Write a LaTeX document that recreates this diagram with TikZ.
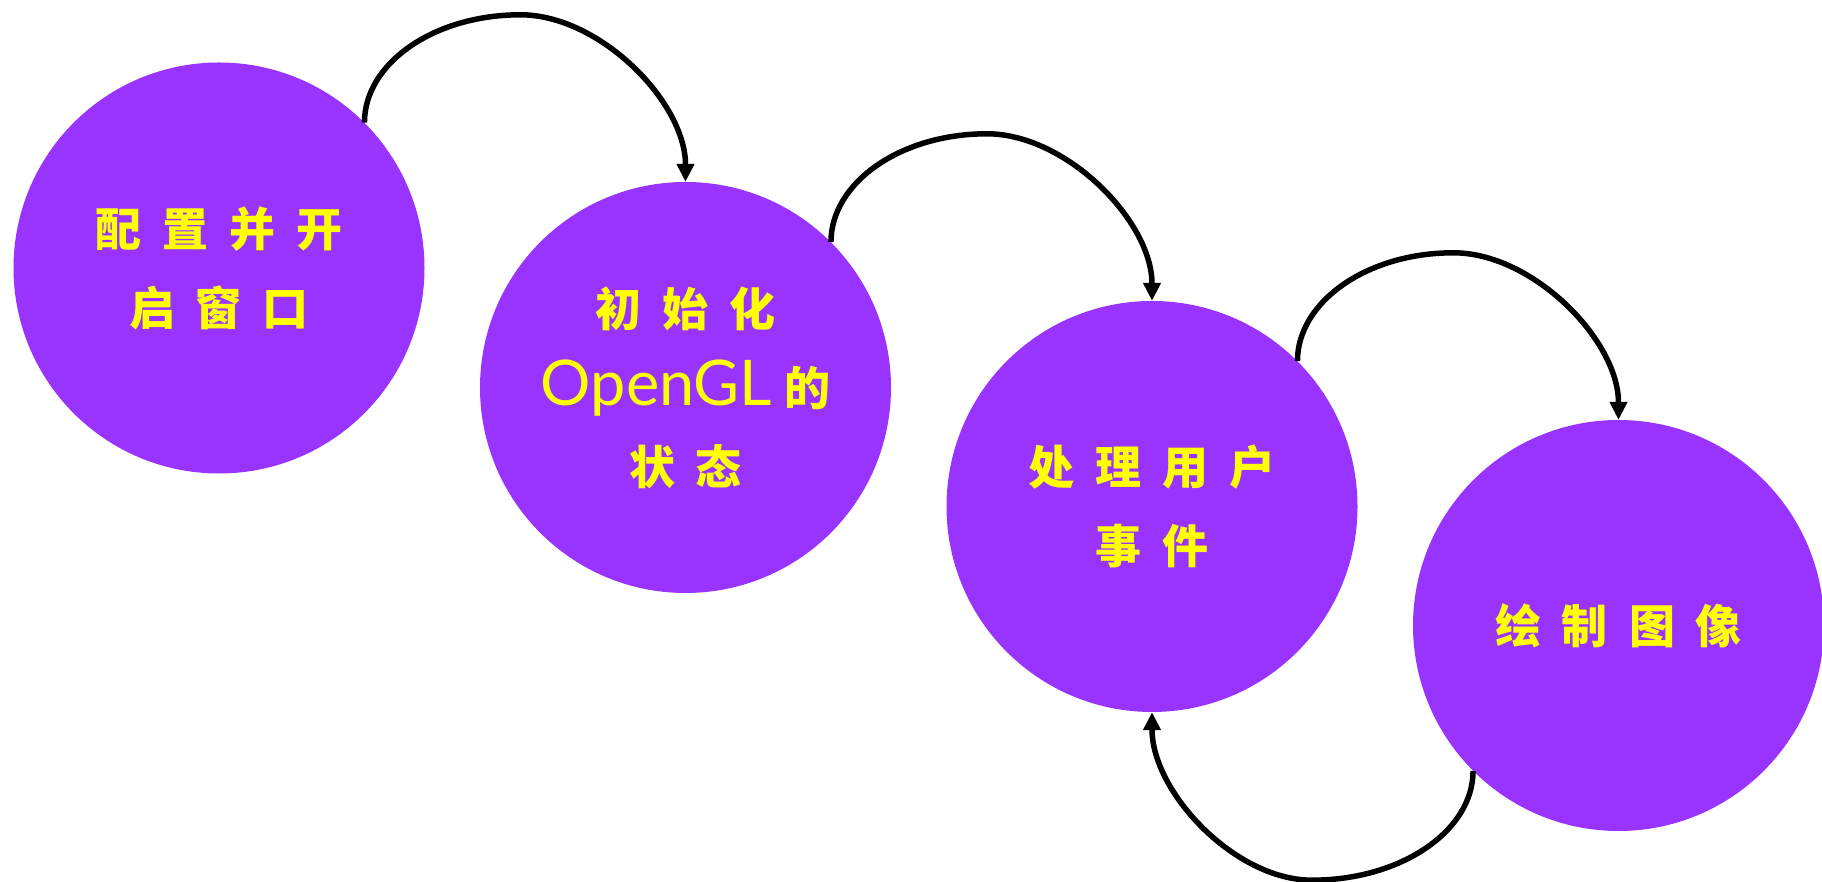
\documentclass[tikz,border=0pt]{standalone}
\usepackage{fontspec}
\newfontfamily\cjk{Noto Sans CJK SC}
\newfontfamily\lat{Lato}
\usetikzlibrary{arrows.meta,calc}
\definecolor{nodepurple}{RGB}{153,51,255}
\definecolor{nodeyellow}{RGB}{255,255,0}
\newcommand\kg{\hspace{21pt}}
\begin{document}
\begin{tikzpicture}[x=1pt,y=1pt,
  stage/.style={circle,fill=nodepurple,minimum size=411pt,inner sep=0pt,
    text=nodeyellow,align=center,font=\cjk\bfseries\fontsize{46}{79}\selectfont},
  conn/.style={line width=5.5pt,-{Triangle[width=17pt,length=18pt]}},
  rise/.style={out=90,in=180,out distance=59pt,in distance=87pt},
  fall/.style={out=0,in=90,out distance=79pt,in distance=80pt},
  brise/.style={out=-90,in=0,out distance=60pt,in distance=89pt},
  bfall/.style={out=180,in=-90,out distance=77pt,in distance=80pt}]
\useasboundingbox (0,0) rectangle (1822,882);
\node[stage] (c1) at (219,614) {配\kg 置\kg 并\kg 开\\启\kg 窗\kg 口};
\node[stage] (c2) at (685.5,494.5) {初\kg 始\kg 化\\{\lat\mdseries\fontsize{63}{79}\selectfont OpenGL}\hspace{12pt}的\\状\kg 态};
\node[stage] (c3) at (1152,375.5) {处\kg 理\kg 用\kg 户\\事\kg 件};
\node[stage] (c4) at (1618.5,256.5) {绘\kg 制\kg 图\kg 像};
\draw[conn] (c1.45) to[rise] ($(c2.north)+(-165,167)$) to[fall] (c2.north);
\draw[conn] (c2.45) to[rise] ($(c3.north)+(-165,167)$) to[fall] (c3.north);
\draw[conn] (c3.45) to[rise] ($(c4.north)+(-165,167)$) to[fall] (c4.north);
\draw[conn] (c4.225) to[brise] ($(c3.south)+(160,-168)$) to[bfall] (c3.south);
\end{tikzpicture}
\end{document}
